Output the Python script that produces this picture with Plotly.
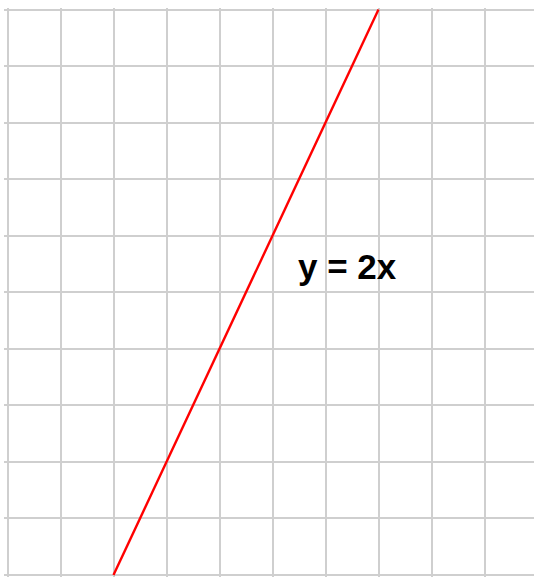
import plotly.graph_objects as go

# line y = 2x
x_vals = [0, 5]
y_vals = [0, 10]

label_text = "y = 2x"
label_x = 4.42
label_y = 5.45

grid_col = '#cfcfcf'

fig = go.Figure()
fig.add_trace(go.Scatter(x=x_vals, y=y_vals, mode='lines',
                         line=dict(color='#ff0000', width=2.4),
                         hoverinfo='skip', showlegend=False))

fig.add_annotation(x=label_x, y=label_y, text="<b>" + label_text + "</b>",
                   showarrow=False, xanchor='center', yanchor='middle',
                   font=dict(family='Liberation Sans, Arial', size=35, color='black'))

fig.update_xaxes(range=[-2.066, 7.934], dtick=1, tick0=0, showgrid=True,
                 gridcolor=grid_col, gridwidth=1.5, zeroline=False,
                 showticklabels=False, showline=False, ticks='')
fig.update_yaxes(range=[-0.035, 10.027], dtick=1, tick0=0, showgrid=True,
                 gridcolor=grid_col, gridwidth=1.5, zeroline=False,
                 showticklabels=False, showline=False, ticks='')

fig.update_layout(width=534, height=577, margin=dict(l=4, r=0, t=8, b=0),
                  plot_bgcolor='white', paper_bgcolor='white')

# page has a default 8px body margin; drop it so the chart sits at 0,0
fig.write_html("out.html", config={'displayModeBar': False},
               post_script="document.body.style.margin='0';")
